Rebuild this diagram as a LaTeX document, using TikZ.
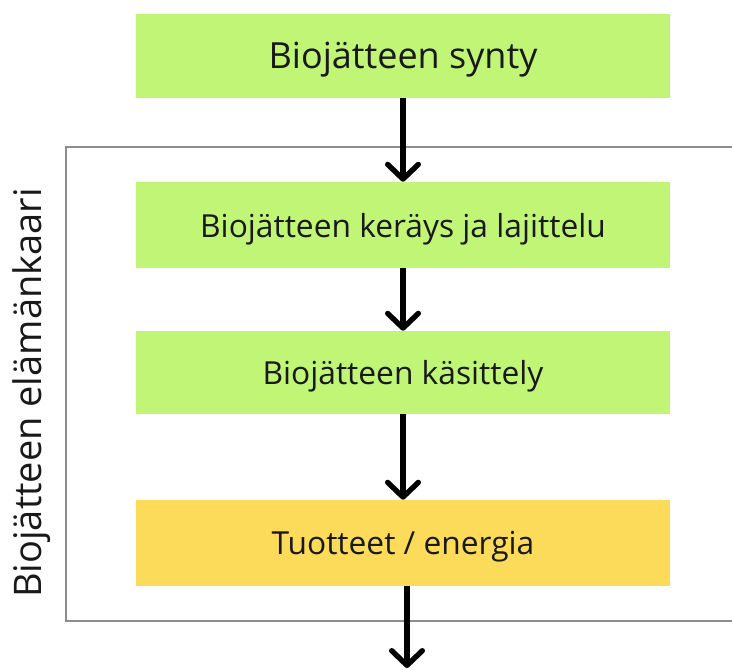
\documentclass[tikz,border=0pt]{standalone}
\usepackage{fontspec}
\setmainfont{Open Sans}
\usetikzlibrary{arrows.meta}
\definecolor{boxgreen}{RGB}{192,245,118}
\definecolor{boxyellow}{RGB}{252,218,90}
\definecolor{framegray}{RGB}{140,140,140}
\newcommand{\lowtxt}[1]{\raisebox{-3pt}[\height][\depth]{#1}}
\tikzset{
  stage/.style={rectangle, fill=boxgreen, minimum width=400.5pt, minimum height=63pt, inner sep=0pt, font=\fontsize{23.8}{28}\selectfont, text=black!90},
  arr/.style={line width=4pt, -{Straight Barb[length=11pt,width=23pt,line cap=round,line join=round]}},
}
\begin{document}
\begin{tikzpicture}[x=0.75pt,y=-0.75pt]
\useasboundingbox (0,0) rectangle (732,669);
\draw[framegray, line width=1.3pt] (733,147) -- (66,147) -- (66,621) -- (733,621);
\node[stage, minimum height=63pt, font=\fontsize{27}{32}\selectfont] (s1) at (403,56) {\lowtxt{Biojätteen synty}};
\node[stage, minimum height=64.5pt] (s2) at (403,225) {\lowtxt{Biojätteen keräys ja lajittelu}};
\node[stage, minimum height=62.25pt] (s3) at (403,372.5) {\lowtxt{Biojätteen käsittely}};
\node[stage, fill=boxyellow, minimum height=64.5pt] (s4) at (403,543) {\lowtxt{Tuotteet / energia}};
\coordinate (out) at (407,668);
\node[rotate=90, font=\fontsize{28.5}{34}\selectfont, text=black!90] (lbl) at (32,393) {Biojätteen elämänkaari};
\draw[arr] (s1) -- (s2);
\draw[arr] (s2) -- (s3);
\draw[arr] (s3) -- (s4);
\draw[arr] (s4.south -| out) -- (out);
\end{tikzpicture}
\end{document}
